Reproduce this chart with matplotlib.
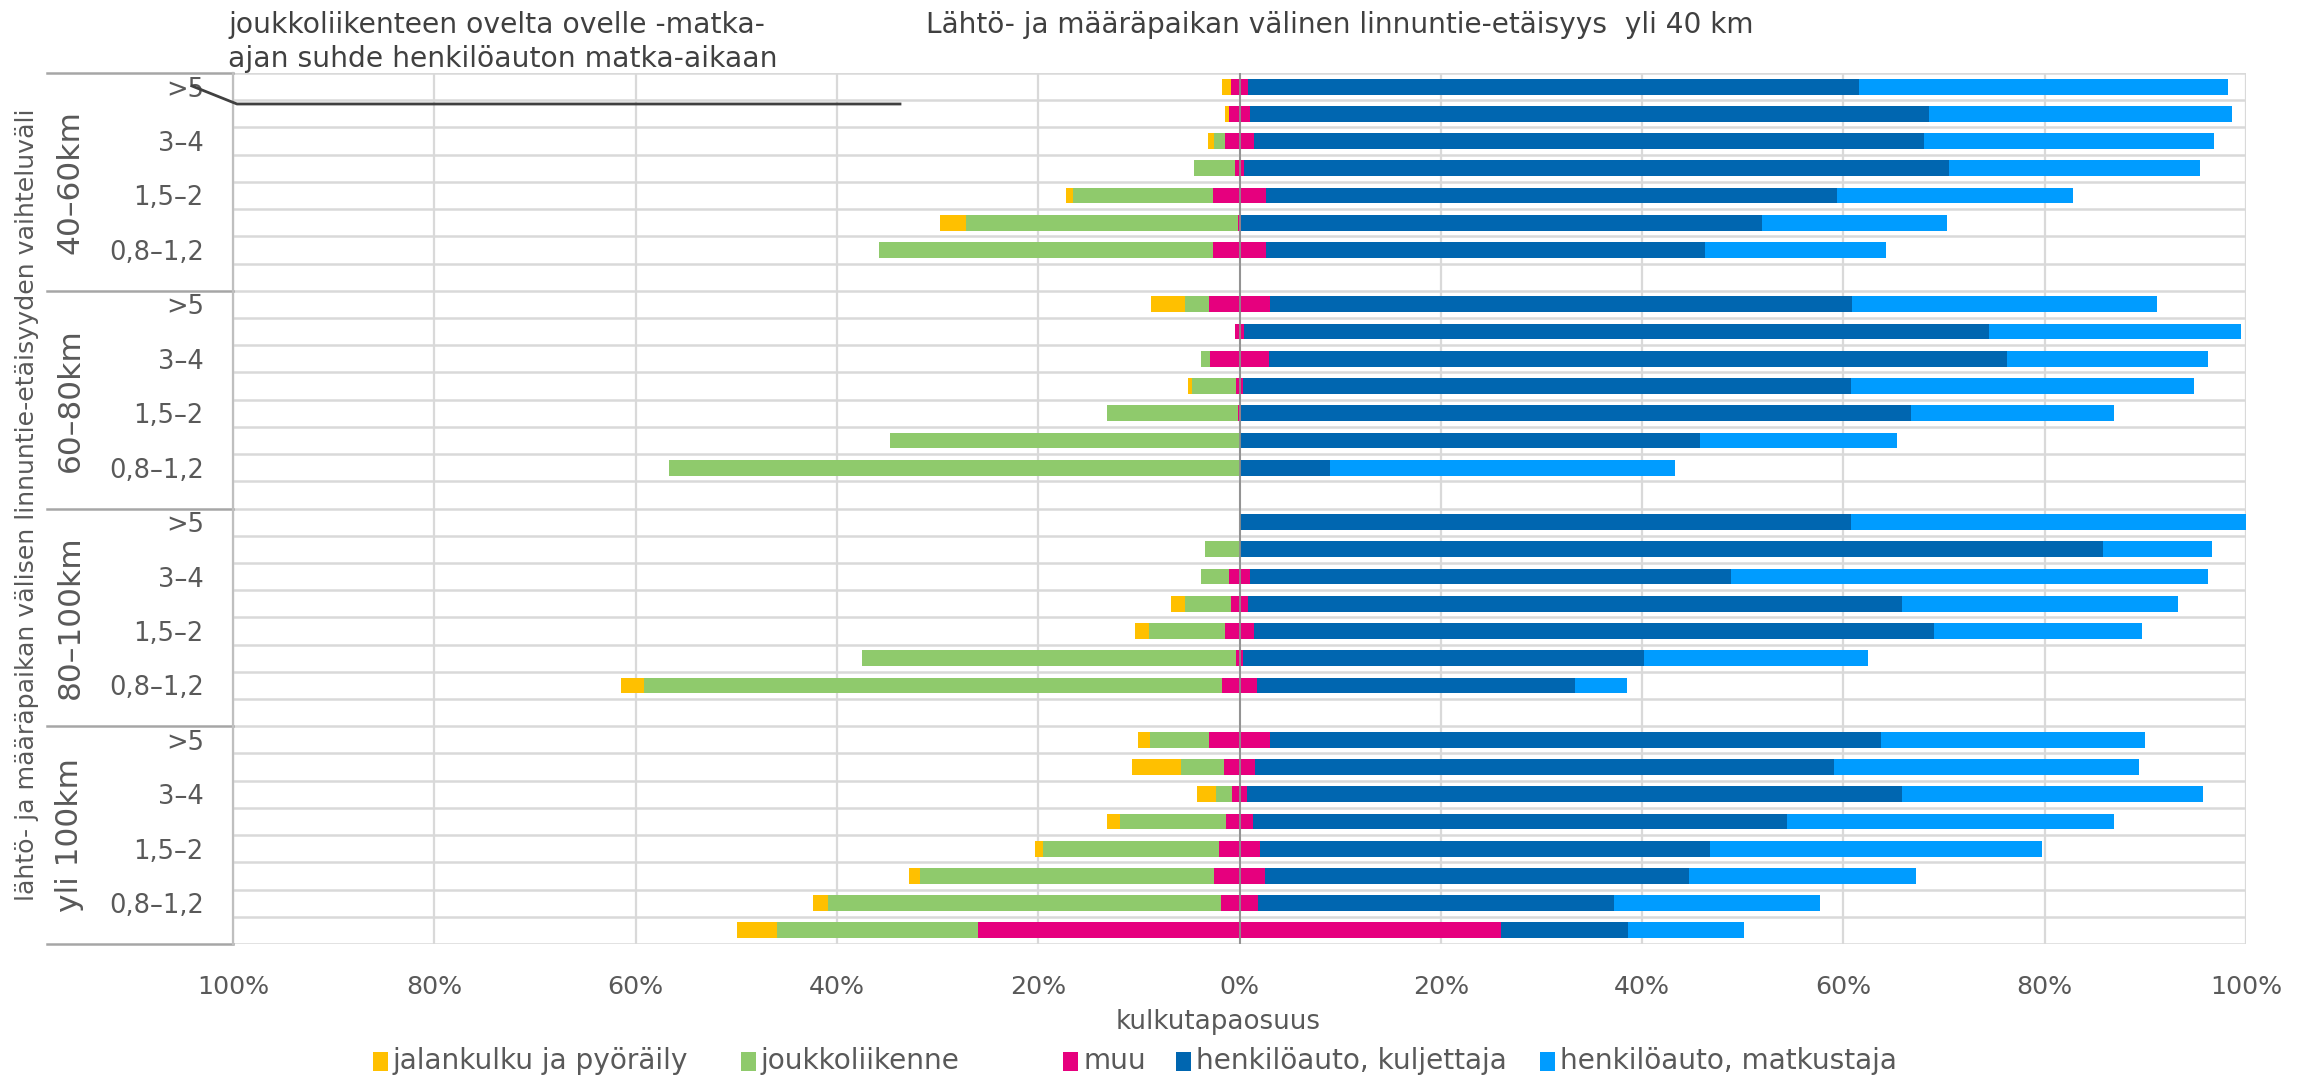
import numpy as np
import matplotlib.pyplot as plt
from matplotlib.patches import Rectangle
from matplotlib.lines import Line2D
from matplotlib.ticker import FuncFormatter
import matplotlib.transforms as mtransforms

plt.rcParams['font.family'] = ['DejaVu Sans']

groups = ['40–60km', '60–80km', '80–100km', 'yli 100km']
ratios = ['>5', '4–5', '3–4', '2–3', '1,5–2', '1,2–1,5', '0,8–1,2', '<0,8']
shown = ['>5', '3–4', '1,5–2', '0,8–1,2']

modes = ['jalankulku ja pyöräily', 'joukkoliikenne', 'muu',
         'henkilöauto, kuljettaja', 'henkilöauto, matkustaja']
colors = ['#FFC000', '#8FCA6C', '#E6007E', '#0066B0', '#009CFF']

# kulkutapaosuudet (%), rivit ylhäältä alas: 8 suhdeluokkaa / etäisyysluokka
jalankulku = [0.9, 0.4, 0.6, 0.0, 0.7, 2.6, 0.0, 0.0,
              3.4, 0.0, 0.0, 0.4, 0.0, 0.0, 0.0, 0.0,
              0.0, 0.0, 0.0, 1.4, 1.4, 0.0, 2.3, 0.0,
              1.2, 4.8, 1.9, 1.3, 0.8, 1.1, 1.5, 3.9]
joukko = [0.0, 0.0, 1.1, 4.1, 13.9, 27.0, 33.2, 0.0,
          2.4, 0.0, 0.9, 4.4, 13.0, 34.7, 56.7, 0.0,
          0.0, 3.4, 2.8, 4.6, 7.5, 37.2, 57.5, 0.0,
          5.8, 4.3, 1.6, 10.5, 17.5, 29.2, 39.0, 20.0]
muu = [1.7, 2.0, 2.9, 0.9, 5.2, 0.3, 5.2, 0.0,
       6.0, 0.9, 5.8, 0.7, 0.3, 0.0, 0.0, 0.0,
       0.0, 0.0, 2.0, 1.6, 2.9, 0.7, 3.4, 0.0,
       6.1, 3.1, 1.5, 2.7, 4.0, 5.0, 3.7, 52.0]
kuljettaja = [60.7, 67.5, 66.6, 70.0, 56.8, 51.8, 43.6, 0.0,
              57.9, 74.0, 73.4, 60.4, 66.6, 45.8, 9.0, 0.0,
              60.8, 85.8, 47.8, 65.0, 67.6, 39.8, 31.6, 0.0,
              60.7, 57.5, 65.1, 53.0, 44.7, 42.2, 35.4, 12.6]
matkustaja = [36.7, 30.1, 28.8, 25.0, 23.4, 18.3, 18.0, 0.0,
              30.3, 25.1, 19.9, 34.1, 20.1, 19.5, 34.3, 0.0,
              39.2, 10.8, 47.4, 27.4, 20.6, 22.3, 5.2, 0.0,
              26.2, 30.3, 29.9, 32.5, 33.0, 22.5, 20.4, 11.5]

jal = np.array(jalankulku)
jou = np.array(joukko)
mu = np.array(muu)
kul = np.array(kuljettaja)
mat = np.array(matkustaja)
n = len(jal)
y = np.arange(n)

W, H = 2311, 1080
fig = plt.figure(figsize=(W / 100, H / 100), dpi=100)
ax = fig.add_axes([233 / W, 1 - 944 / H, (2246 - 233) / W, (944 - 73) / H])

grid_c = '#D9D9D9'
txt_c = '#595959'

# ruudukko
for xv in range(-100, 101, 20):
    ax.axvline(xv, color=grid_c, lw=1.6, zorder=0)
ax.hlines(np.arange(n + 1) - 0.5, -100, 100, color=grid_c, lw=1.8, zorder=0)

# muu keskitetään nollaan, muut kulkutavat pinotaan sen kummallekin puolelle
h = 0.58
ax.barh(y, -jou, left=-mu / 2, height=h, color=colors[1], zorder=2)
ax.barh(y, -jal, left=-mu / 2 - jou, height=h, color=colors[0], zorder=2)
ax.barh(y, mu, left=-mu / 2, height=h, color=colors[2], zorder=2)
ax.barh(y, kul, left=mu / 2, height=h, color=colors[3], zorder=2)
ax.barh(y, mat, left=mu / 2 + kul, height=h, color=colors[4], zorder=2)
ax.axvline(0, color='#8C8C8C', lw=1.3, zorder=3)

ax.set_xlim(-100, 100)
ax.set_ylim(n - 0.5, -0.5)
for s in ax.spines.values():
    s.set_visible(False)

ax.set_xticks(range(-100, 101, 20))
ax.xaxis.set_major_formatter(FuncFormatter(lambda v, p: f'{abs(v):.0f}%'))
ax.tick_params(axis='x', length=0, pad=22, labelsize=18.2, labelcolor=txt_c)

ticks = [g * len(ratios) + i for g in range(len(groups))
         for i, r in enumerate(ratios) if r in shown]
ax.set_yticks(ticks)
ax.set_yticklabels([ratios[t % len(ratios)] for t in ticks])
ax.tick_params(axis='y', length=0, pad=21, labelsize=18.5, labelcolor=txt_c)

ax.set_xlabel('kulkutapaosuus', fontsize=18.8, color=txt_c, labelpad=14)
ax.xaxis.set_label_coords((1218 - 233) / (2246 - 233), -0.075)

# ryhmien erotinviivat ja ryhmänimet vasemmalla
trans = mtransforms.blended_transform_factory(ax.transAxes, ax.transData)
x0 = (47 - 233) / (2246 - 233)
for g in range(len(groups) + 1):
    yy = g * len(ratios) - 0.5
    ax.plot([x0, 0], [yy, yy], color='#A6A6A6', lw=1.8, transform=trans,
            clip_on=False, zorder=1)
ax.plot([0, 0], [-0.5, n - 0.5], color='#BFBFBF', lw=1.6, transform=trans,
        clip_on=False, zorder=1)
for g, name in enumerate(groups):
    yc = g * len(ratios) + (len(ratios) - 1) / 2
    ax.text((70 - 233) / (2246 - 233), yc, name, rotation=90, ha='center',
            va='center', fontsize=22.5, color=txt_c, transform=trans)

fig.text(27 / W, 1 - 505 / H,
         'lähtö- ja määräpaikan välisen linnuntie-etäisyyden vaihteluväli',
         rotation=90, ha='center', va='center', fontsize=18.2, color=txt_c)

# otsikot
fig.text(926 / W, 1 - 25 / H,
         'Lähtö- ja määräpaikan välinen linnuntie-etäisyys  yli 40 km',
         ha='left', va='center', fontsize=20.2, color='#404040')
fig.text(228 / W, 1 - 25 / H, 'joukkoliikenteen ovelta ovelle -matka-',
         ha='left', va='center', fontsize=20.3, color='#404040')
fig.text(228 / W, 1 - 59 / H, 'ajan suhde henkilöauton matka-aikaan',
         ha='left', va='center', fontsize=20.3, color='#404040')

# viiva otsikosta y-akselin luokkiin
px = [192, 237, 900]
py = [86, 104, 104]
fig.add_artist(Line2D([v / W for v in px], [1 - v / H for v in py],
                      color='#404040', lw=2))

# selite
legend_x = [373, 741, 1063, 1176, 1540]
ly = 1 - 1061 / H
for lx, lab, c in zip(legend_x, modes, colors):
    fig.add_artist(Rectangle((lx / W, ly - 10 / H), 15 / W, 19 / H,
                             facecolor=c, edgecolor='none',
                             transform=fig.transFigure))
    fig.text((lx + 20) / W, ly, lab, ha='left', va='center', fontsize=20.2,
             color=txt_c)

fig.savefig('out.png', dpi=100, facecolor='white')
